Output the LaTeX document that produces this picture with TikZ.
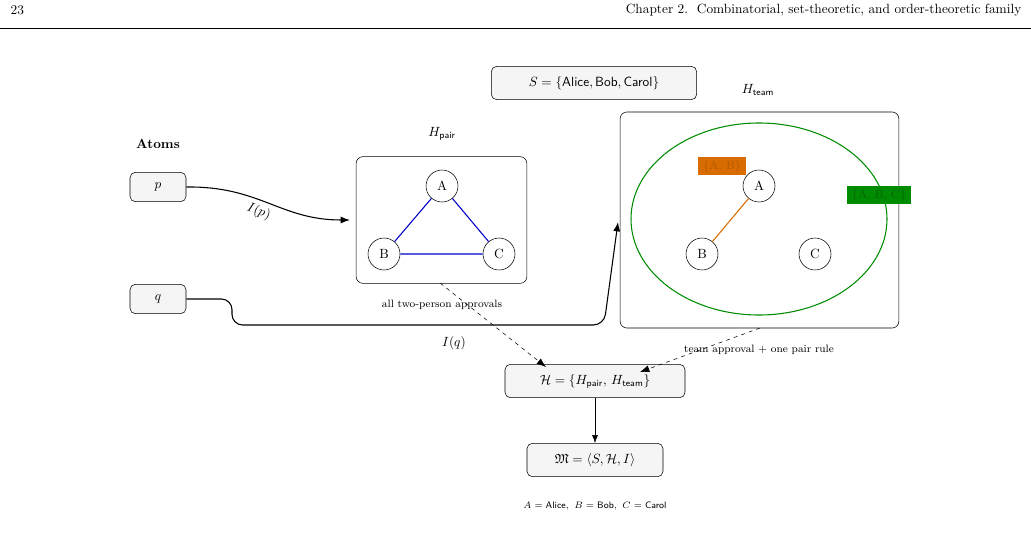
\documentclass[tikz,border=0pt]{standalone}
\usepackage{amsmath,amssymb}
\usetikzlibrary{arrows.meta,shapes.geometric}
\begin{document}
\begin{tikzpicture}[x=0.75pt,y=-0.75pt,
  rbox/.style={draw,rounded corners=4pt,fill=gray!8,inner sep=0pt},
  vtx/.style={draw,circle,fill=white,minimum size=24pt,inner sep=0pt},
  arr/.style={-{Latex[length=7pt]},thick},
  lbl/.style={font=\footnotesize}]
\useasboundingbox (0,0) rectangle (1031,543);
\node[anchor=west] (pg) at (6,10) {23};
\node[anchor=east] (hd) at (1026,10) {Chapter 2.\ \ Combinatorial, set-theoretic, and order-theoretic family};
\draw (0,28) -- (1031,28);
\node[rbox,minimum width=154pt,minimum height=25pt] (S) at (594,83) {$S=\{\textsf{Alice},\textsf{Bob},\textsf{Carol}\}$};
% team
\node (tl) at (758,90) {$H_{\textsf{team}}$};
\node[draw,rounded corners=5pt,minimum width=209pt,minimum height=162pt] (team) at (759.5,220) {};
\node[draw=green!55!black,thick,ellipse,minimum width=192pt,minimum height=144pt] (ell) at (759,219) {};
\node[vtx] (tA) at (759,186) {A};
\node[vtx] (tB) at (702,254) {B};
\node[vtx] (tC) at (815,254) {C};
\draw[orange!85!black,thick] (tA) -- (tB);
\node[fill=orange!85!black,text=orange!70!black,font=\small,inner sep=1pt,minimum width=36pt,minimum height=13pt] (lab) at (722,166) {$\{$A, B$\}$};
\node[fill=green!55!black,text=green!40!black,font=\small,inner sep=1pt,minimum width=48pt,minimum height=13pt] (labc) at (879,195) {$\{$A, B, C$\}$};
% atoms
\node[font=\bfseries] (at) at (158,144) {Atoms};
\node[rbox,minimum width=42pt,minimum height=22pt] (p) at (158,187) {$p$};
\node[rbox,minimum width=42pt,minimum height=22pt] (q) at (158,299) {$q$};
% pair
\node (pl) at (442,134) {$H_{\textsf{pair}}$};
\node[draw,rounded corners=5pt,minimum width=128pt,minimum height=95pt] (pair) at (441.5,220) {};
\node[vtx] (pA) at (442,186) {A};
\node[vtx] (pB) at (384,254) {B};
\node[vtx] (pC) at (499,254) {C};
\draw[blue!80!black,thick] (pA) -- (pB) -- (pC) -- (pA);
\node[lbl] (apl) at (442,305) {all two-person approvals};
\coordinate (pin) at (350,220);
\draw[arr] (p.east) .. controls (260,186) and (280,220) .. node[sloped,below,pos=0.45]{$I(p)$} (pin);
\coordinate (tin) at (618,222);
\draw[arr,rounded corners=8pt] (q.east) -- (232,299) -- (232,325) -- (604,325) -- (tin);
\node (iq) at (454,343) {$I(q)$};
\node[rbox,minimum width=135pt,minimum height=25pt] (H) at (595,381) {$\mathcal{H}=\{H_{\textsf{pair}},\,H_{\textsf{team}}\}$};
\node[rbox,minimum width=102pt,minimum height=25pt] (M) at (595,460) {$\mathfrak{M}=\langle S,\mathcal{H},I\rangle$};
\draw[-{Latex[length=6pt]}] (H) -- (M);
\draw[dashed,-{Latex[length=7pt]}] (440,283) -- (546,367);
\draw[dashed,-{Latex[length=7pt]}] (760,328) -- (640,372);
\node[lbl] (tap) at (759,350) {team approval + one pair rule};
\node[font=\scriptsize] (fn) at (595,506) {$A=\textsf{Alice},\ B=\textsf{Bob},\ C=\textsf{Carol}$};
\end{tikzpicture}
\end{document}
